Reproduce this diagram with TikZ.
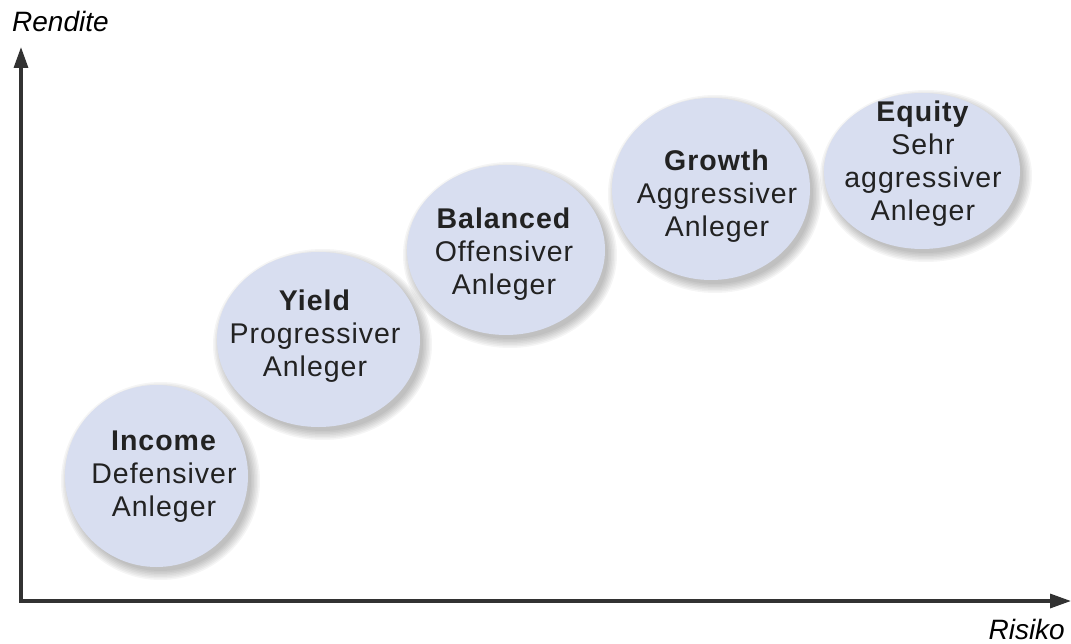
\documentclass[tikz,border=0pt]{standalone}
\usepackage{fontspec}
\setmainfont{Liberation Sans}
\newfontfamily\bubblefont[LetterSpace=3.5]{Liberation Sans}
\usetikzlibrary{arrows.meta,shapes.geometric}

\definecolor{bubblefill}{RGB}{216,222,240}
\definecolor{axisgray}{RGB}{50,50,50}
\definecolor{inkgray}{RGB}{34,34,34}

\tikzset{
  bubble/.style={ellipse, fill=bubblefill, draw=none, inner sep=0pt},
  bubbletext/.style={align=center, text=inkgray, inner sep=0pt,
    font=\bubblefont\fontsize{28.5}{33}\selectfont},
  axislabel/.style={text=black, inner sep=0pt,
    font=\itshape\fontsize{28}{33}\selectfont},
  axisline/.style={draw=axisgray, line width=3.3pt,
    -{Triangle[length=21pt,width=14pt]}},
}

% #1 name, #2 cx, #3 cy, #4 x radius, #5 y radius
\newcommand\riskbubble[5]{%
  \foreach \d in {8,6.5,5,3.5,2,0.5,-1}{%
    \fill[black,opacity=0.04] (#2+4,#3-5) ellipse [x radius=#4+\d, y radius=#5+\d];
  }
  \node[bubble, minimum width=2*#4pt, minimum height=2*#5pt] (#1) at (#2,#3) {};
}

\begin{document}
\begin{tikzpicture}[x=1pt,y=1pt]
  \useasboundingbox (0,0) rectangle (1071,-644);

  % axes
  \coordinate (origin) at (21,-601);
  \coordinate (ytip) at (21,-47);
  \coordinate (xtip) at (1071,-601);
  \draw[axisline] (origin) -- (ytip);
  \draw[axisline] ([xshift=-1.65pt]origin) -- (xtip);
  \node[axislabel, anchor=base west] (rendite) at (12,-32) {Rendite};
  \node[axislabel, anchor=base east] (risiko) at (1065,-639) {Risiko};

  % investor profiles, from low to high risk
  \riskbubble{income}{156.5}{-476}{91.5}{91}
  \node[bubbletext] (income-t) at (164,-476.5)
    {\textbf{Income}\\Defensiver\\Anleger};

  \riskbubble{yield}{318.5}{-339.5}{101.5}{87.5}
  \node[bubbletext] (yield-t) at (315,-336.5)
    {\textbf{Yield}\\Progressiver\\Anleger};

  \riskbubble{balanced}{506}{-250}{99}{85}
  \node[bubbletext] (balanced-t) at (504,-254.5)
    {\textbf{Balanced}\\Offensiver\\Anleger};

  \riskbubble{growth}{711}{-189}{99}{91}
  \node[bubbletext] (growth-t) at (717,-196.5)
    {\textbf{Growth}\\Aggressiver\\Anleger};

  \riskbubble{equity}{922}{-171}{98}{78}
  \node[bubbletext] (equity-t) at (923,-164)
    {\textbf{Equity}\\Sehr\\aggressiver\\Anleger};
\end{tikzpicture}
\end{document}
